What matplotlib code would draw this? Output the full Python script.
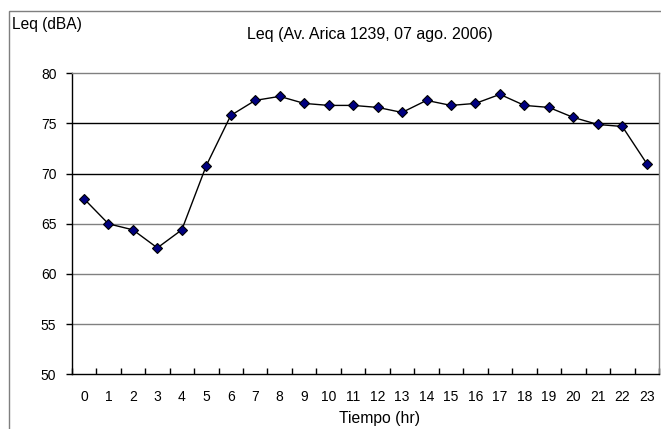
import matplotlib
matplotlib.use("Agg")
import matplotlib.pyplot as plt
from matplotlib.patches import Rectangle

plt.rcParams['font.family'] = ['Liberation Sans', 'DejaVu Sans']

# Hourly Leq readings, Av. Arica 1239
horas = list(range(24))
leq = [67.5, 65.0, 64.4, 62.6, 64.4, 70.8, 75.8, 77.3, 77.7, 77.0, 76.8, 76.8,
       76.6, 76.1, 77.3, 76.8, 77.0, 77.9, 76.8, 76.6, 75.6, 74.9, 74.7, 71.0]
yticks = [50, 55, 60, 65, 70, 75, 80]

W, H = 661, 429
fig = plt.figure(figsize=(W / 100, H / 100), dpi=100)
fig.patch.set_facecolor('white')

# outer chart frame (runs off the right and bottom edges)
fig.patches.append(Rectangle((8.5 / W, -0.05), 1.2, 1 - 11 / H + 0.05,
                             transform=fig.transFigure, fill=False,
                             edgecolor='#7f7f7f', lw=1.0))

ax = fig.add_axes([71.7 / W, 1 - 374.3 / H, (659 - 71.7) / W, (374.3 - 73.3) / H])
ax.set_xlim(-0.5, 23.5)
ax.set_ylim(50, 80)

# horizontal gridlines
for v in yticks[1:-1]:
    col = 'black' if v in (70, 75) else '#808080'
    ax.axhline(v, color=col, lw=1.0, zorder=1)

ax.plot(horas, leq, color='black', lw=1.0, marker='D', markersize=5.5,
        markerfacecolor='#000080', markeredgecolor='black', markeredgewidth=0.8,
        zorder=3)

ax.set_yticks(yticks)
ax.tick_params(axis='y', direction='out', length=4, width=1, pad=7, labelsize=10)
ax.set_xticks(horas)
ax.set_xticks([h - 0.5 for h in horas] + [23.5], minor=True)
ax.tick_params(axis='x', which='major', length=0, pad=11.5, labelsize=10)
ax.tick_params(axis='x', which='minor', direction='in', length=4, width=1)

for s in ('top', 'right'):
    ax.spines[s].set_color('#808080')
    ax.spines[s].set_linewidth(1.0)
for s in ('left', 'bottom'):
    ax.spines[s].set_color('black')
    ax.spines[s].set_linewidth(1.0)

fig.text(12 / W, 1 - 24 / H, 'Leq (dBA)', fontsize=11.2, ha='left', va='center')
fig.text(370 / W, 1 - 35 / H, 'Leq (Av. Arica 1239, 07 ago. 2006)',
         fontsize=11.5, ha='center', va='center')
fig.text(379.5 / W, 1 - 418 / H, 'Tiempo (hr)', fontsize=11.3, ha='center', va='center')

fig.savefig('out.png', dpi=100)
